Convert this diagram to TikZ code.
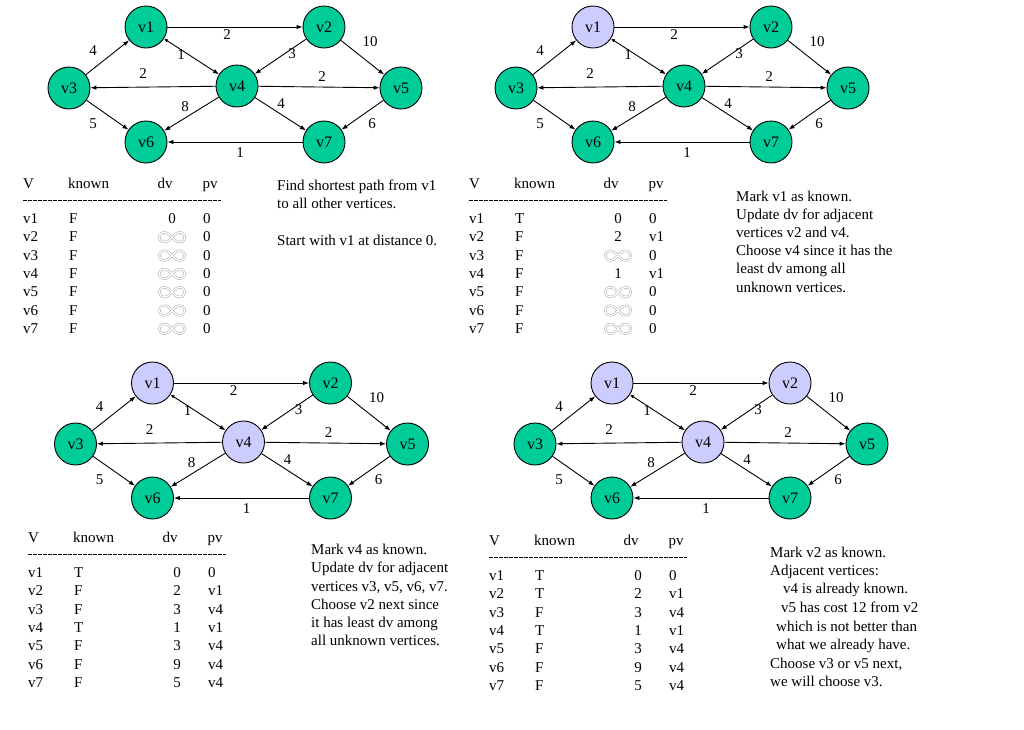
\documentclass[tikz,border=0pt]{standalone}
\usepackage{fontspec}
\setmainfont{Liberation Serif}
\usetikzlibrary{arrows.meta}
\definecolor{vgreen}{RGB}{0,204,153}
\definecolor{vlav}{RGB}{204,204,255}
\tikzset{
  vert/.style={circle, draw=black, line width=0.9pt, minimum size=42pt, inner sep=0pt, font=\fontsize{16}{18}\selectfont},
  edge/.style={-{Latex[length=6pt,width=4.5pt]}, line width=0.9pt},
  bedge/.style={{Latex[length=4pt,width=3.5pt]}-{Latex[length=6pt,width=4.5pt]}, line width=0.9pt},
  wlab/.style={inner sep=0pt, font=\fontsize{15}{18}\selectfont},
  txt/.style={anchor=base west, inner sep=0pt, font=\fontsize{15}{18}\selectfont},
  txtc/.style={anchor=base, inner sep=0pt, font=\fontsize{15}{18}\selectfont},
  rule/.style={line width=0.6pt, dash pattern=on 3.5pt off 1.5pt},
  infsym/.pic={\draw[gray!75, line width=0.45pt, double=white, double distance=1.4pt]
     plot[domain=0:360, samples=72, smooth cycle]
     ({12.5*cos(\x)/(1+sin(\x)^2)}, {13.5*sin(\x)*cos(\x)/(1+sin(\x)^2)});}
}
% graph: #1 prefix, #2 dx, #3 dy, #4 v1 fill, #5 v2 fill, #6 v4 fill
\newcommand\DGgraph[6]{%
\begin{scope}[shift={(#2,#3)}]
  \node[vert, fill=#4] (#1v1) at (146,27) {v1};
  \node[vert, fill=#5] (#1v2) at (324,27) {v2};
  \node[vert, fill=vgreen] (#1v3) at (69,88) {v3};
  \node[vert, fill=#6] (#1v4) at (237,86) {v4};
  \node[vert, fill=vgreen] (#1v5) at (401,88) {v5};
  \node[vert, fill=vgreen] (#1v6) at (146,142) {v6};
  \node[vert, fill=vgreen] (#1v7) at (324,142) {v7};
  \draw[edge] (#1v1) -- (#1v2);
  \draw[bedge] (#1v1) -- (#1v4);
  \draw[edge] (#1v2) -- (#1v4);
  \draw[edge] (#1v2) -- (#1v5);
  \draw[edge] (#1v3) -- (#1v1);
  \draw[edge] (#1v4) -- (#1v3);
  \draw[edge] (#1v4) -- (#1v5);
  \draw[edge] (#1v4) -- (#1v6);
  \draw[edge] (#1v4) -- (#1v7);
  \draw[edge] (#1v3) -- (#1v6);
  \draw[edge] (#1v5) -- (#1v7);
  \draw[edge] (#1v7) -- (#1v6);
  \node[wlab] (#1w31) at (93,51) {4};
  \node[wlab] (#1w14) at (181,55) {1};
  \node[wlab] (#1w12) at (227,35) {2};
  \node[wlab] (#1w24) at (292,54) {3};
  \node[wlab] (#1w25) at (370,42) {10};
  \node[wlab] (#1w43) at (143,74) {2};
  \node[wlab] (#1w45) at (322,77) {2};
  \node[wlab] (#1w46) at (185,107) {8};
  \node[wlab] (#1w47) at (281,104) {4};
  \node[wlab] (#1w36) at (93,124) {5};
  \node[wlab] (#1w57) at (372,124) {6};
  \node[wlab] (#1w76) at (240,153) {1};
\end{scope}}
% table header: #1 prefix, #2 x0, #3 y0
\newcommand\DGhead[3]{%
  \node[txt] (#1hV) at (#2,#3+5) {V};
  \node[txt] (#1hK) at (#2+45,#3+5) {known};
  \node[txtc] (#1hD) at (#2+142,#3+5) {dv};
  \node[txtc] (#1hP) at (#2+187,#3+5) {pv};
  \coordinate (#1rA) at (#2,#3+17);
  \coordinate (#1rB) at (#2+198,#3+17);
  \draw[rule] (#1rA) -- (#1rB);}
% row: #1 prefix, #2 x0, #3 y0, #4 index, #5 V, #6 known, #7 dv, #8 pv
\newcommand\DGrow[8]{%
  \node[txt] (#1r#4v) at (#2,#3+40.5+18.3*#4-18.3) {#5};
  \node[txt] (#1r#4k) at (#2+46,#3+40.5+18.3*#4-18.3) {#6};
  \node[txtc] (#1r#4d) at (#2+149,#3+40.5+18.3*#4-18.3) {#7};
  \node[txt] (#1r#4p) at (#2+180,#3+40.5+18.3*#4-18.3) {#8};}
\newcommand\DGrowinf[7]{%
  \node[txt] (#1r#4v) at (#2,#3+40.5+18.3*#4-18.3) {#5};
  \node[txt] (#1r#4k) at (#2+46,#3+40.5+18.3*#4-18.3) {#6};
  \pic at (#2+149,#3+36+18.3*#4-18.3) {infsym};
  \node[txt] (#1r#4p) at (#2+180,#3+40.5+18.3*#4-18.3) {#7};}
\begin{document}
\begin{tikzpicture}[x=1pt, y=-1pt]
\useasboundingbox (0,0) rectangle (1024,729);
\fill[white] (0,0) rectangle (1024,729);
% graphs
\DGgraph{a}{0}{0}{vgreen}{vgreen}{vgreen}
\DGgraph{b}{447}{0}{vlav}{vgreen}{vgreen}
\DGgraph{c}{6.5}{356}{vlav}{vgreen}{vlav}
\DGgraph{d}{466}{356}{vlav}{vlav}{vlav}
% table 1
\DGhead{ta}{23}{183}
\DGrow{ta}{23}{183}{1}{v1}{F}{0}{0}
\DGrowinf{ta}{23}{183}{2}{v2}{F}{0}
\DGrowinf{ta}{23}{183}{3}{v3}{F}{0}
\DGrowinf{ta}{23}{183}{4}{v4}{F}{0}
\DGrowinf{ta}{23}{183}{5}{v5}{F}{0}
\DGrowinf{ta}{23}{183}{6}{v6}{F}{0}
\DGrowinf{ta}{23}{183}{7}{v7}{F}{0}
% table 2
\DGhead{tb}{469}{183}
\DGrow{tb}{469}{183}{1}{v1}{T}{0}{0}
\DGrow{tb}{469}{183}{2}{v2}{F}{2}{v1}
\DGrowinf{tb}{469}{183}{3}{v3}{F}{0}
\DGrow{tb}{469}{183}{4}{v4}{F}{1}{v1}
\DGrowinf{tb}{469}{183}{5}{v5}{F}{0}
\DGrowinf{tb}{469}{183}{6}{v6}{F}{0}
\DGrowinf{tb}{469}{183}{7}{v7}{F}{0}
% table 3
\DGhead{tc}{28}{537}
\DGrow{tc}{28}{537}{1}{v1}{T}{0}{0}
\DGrow{tc}{28}{537}{2}{v2}{F}{2}{v1}
\DGrow{tc}{28}{537}{3}{v3}{F}{3}{v4}
\DGrow{tc}{28}{537}{4}{v4}{T}{1}{v1}
\DGrow{tc}{28}{537}{5}{v5}{F}{3}{v4}
\DGrow{tc}{28}{537}{6}{v6}{F}{9}{v4}
\DGrow{tc}{28}{537}{7}{v7}{F}{5}{v4}
% table 4
\DGhead{td}{489}{540}
\DGrow{td}{489}{540}{1}{v1}{T}{0}{0}
\DGrow{td}{489}{540}{2}{v2}{T}{2}{v1}
\DGrow{td}{489}{540}{3}{v3}{F}{3}{v4}
\DGrow{td}{489}{540}{4}{v4}{T}{1}{v1}
\DGrow{td}{489}{540}{5}{v5}{F}{3}{v4}
\DGrow{td}{489}{540}{6}{v6}{F}{9}{v4}
\DGrow{td}{489}{540}{7}{v7}{F}{5}{v4}
% text 1
\node[txt] (xa1) at (277,190) {Find shortest path from v1};
\node[txt] (xa2) at (277,208) {to all other vertices.};
\node[txt] (xa3) at (277,245) {Start with v1 at distance 0.};
% text 2
\node[txt] (xb1) at (736,201) {Mark v1 as known.};
\node[txt] (xb2) at (736,219) {Update dv for adjacent};
\node[txt] (xb3) at (736,237) {vertices v2 and v4.};
\node[txt] (xb4) at (736,255) {Choose v4 since it has the};
\node[txt] (xb5) at (736,273) {least dv among all};
\node[txt] (xb6) at (736,292) {unknown vertices.};
% text 3
\node[txt] (xc1) at (311,554) {Mark v4 as known.};
\node[txt] (xc2) at (311,572) {Update dv for adjacent};
\node[txt] (xc3) at (311,591) {vertices v3, v5, v6, v7.};
\node[txt] (xc4) at (311,609) {Choose v2 next since};
\node[txt] (xc5) at (311,627) {it has least dv among};
\node[txt] (xc6) at (311,645) {all unknown vertices.};
% text 4
\node[txt] (xd1) at (770,557) {Mark v2 as known.};
\node[txt] (xd2) at (770,575) {Adjacent vertices:};
\node[txt] (xd3) at (783,593) {v4 is already known.};
\node[txt] (xd4) at (781,612) {v5 has cost 12 from v2};
\node[txt] (xd5) at (776,631) {which is not better than};
\node[txt] (xd6) at (776,649) {what we already have.};
\node[txt] (xd7) at (770,668) {Choose v3 or v5 next,};
\node[txt] (xd8) at (770,686) {we will choose v3.};
\end{tikzpicture}
\end{document}
